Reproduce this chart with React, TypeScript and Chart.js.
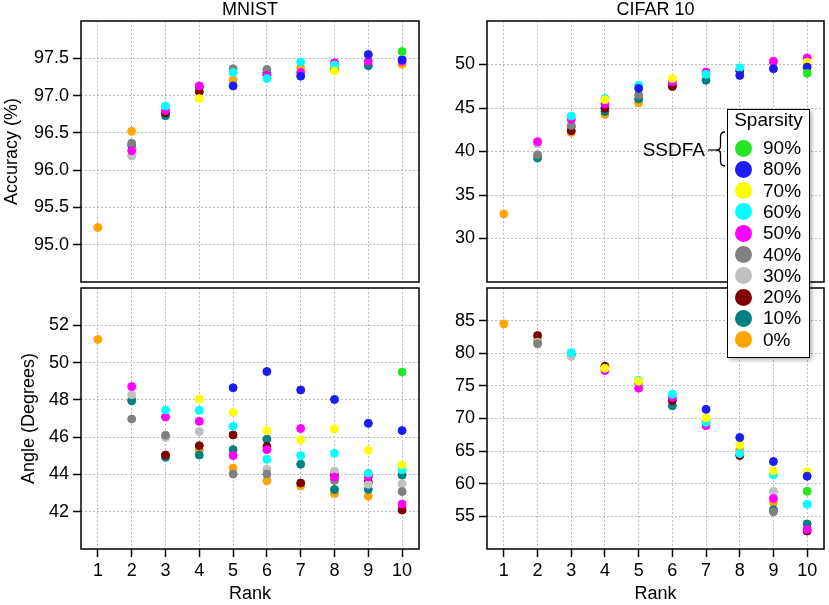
import React, { useEffect, useRef } from 'react';
import { Chart, registerables } from 'chart.js';

Chart.register(...registerables);

const FONT = '"Liberation Sans", Arial, Helvetica, sans-serif';
const GRID = '#bdbdbd';

const ranks = [1, 2, 3, 4, 5, 6, 7, 8, 9, 10];
const sparsity = ['90%', '80%', '70%', '60%', '50%', '40%', '30%', '20%', '10%', '0%'];
const sparsityColors = [
  '#22e622', '#1c1cf5', '#ffff00', '#00ffff', '#ff00ff',
  '#808080', '#c0c0c0', '#800000', '#008080', '#ffa500',
];

const _ = null;

// rows follow the sparsity order above, columns are ranks 1..10
const mnistAccuracy = [
  [_, _, _, _, _, _, _, _, _, 97.59],
  [_, _, _, _, 97.13, _, 97.26, _, 97.55, 97.48],
  [_, _, _, 96.96, _, _, _, 97.33, _, _],
  [_, _, 96.86, _, 97.31, 97.23, 97.45, 97.41, _, _],
  [_, 96.26, 96.8, 97.13, _, 97.27, 97.31, 97.44, 97.46, 97.46],
  [_, 96.36, _, _, 97.36, 97.35, _, _, _, _],
  [_, 96.19, _, _, _, _, _, _, _, _],
  [_, _, 96.77, 97.05, _, 97.28, _, 97.35, _, _],
  [_, 96.33, 96.73, 97.11, _, 97.31, _, _, 97.4, _],
  [95.23, 96.52, _, _, 97.21, _, 97.37, _, _, 97.42],
];

const mnistAngle = [
  [_, _, _, _, _, _, _, _, _, 49.49],
  [_, _, _, _, 48.65, 49.52, 48.53, 48.02, 46.74, 46.35],
  [_, _, _, 48.04, 47.33, 46.35, 45.86, 46.44, 45.29, 44.51],
  [_, _, 47.45, 47.43, 46.58, 44.81, 45.01, 45.13, 44.07, 44.25],
  [_, 48.71, 47.08, 46.85, 45.01, 45.33, 46.46, 43.86, 43.87, 42.41],
  [_, 46.97, 46.1, _, 44.02, 44.02, _, 43.68, 43.95, 43.08],
  [_, 48.28, 45.98, 46.3, _, 44.28, _, 44.18, 43.47, 43.49],
  [_, _, 45.04, 45.54, 46.12, 45.5, 43.54, 44.0, 43.59, 42.09],
  [_, 47.95, 44.92, 45.04, 45.33, 45.89, 44.55, 43.19, 43.2, 43.96],
  [51.24, 48.05, _, 45.31, 44.34, 43.66, 43.38, 42.97, 42.83, 42.27],
];

const cifarAccuracy = [
  [_, _, _, _, _, _, _, _, _, 48.98],
  [_, _, _, _, 47.25, _, _, 48.75, 49.51, 49.7],
  [_, _, _, 45.96, _, 48.38, _, _, _, 50.26],
  [_, _, 44.08, 46.11, 47.62, _, 48.87, 49.62, _, _],
  [_, 41.13, 43.7, 45.47, _, 48.0, 49.13, _, 50.38, 50.75],
  [_, 39.62, 43.0, _, 46.49, _, _, _, _, _],
  [_, 40.87, _, _, _, _, _, _, _, _],
  [_, _, 42.38, 44.98, _, 47.47, _, 49.25, _, _],
  [_, 39.25, 42.83, 44.6, 46.04, 47.62, 48.19, _, _, _],
  [32.83, _, 42.19, 44.26, 45.58, _, _, _, 50.2, _],
];

const cifarAngle = [
  [_, _, _, _, _, _, _, _, _, 58.85],
  [_, _, _, _, _, _, 71.4, 67.08, 63.4, 61.15],
  [_, _, _, 77.7, 75.7, _, 70.1, 66.0, 62.0, 61.85],
  [_, _, 80.1, _, 75.86, 73.7, 69.4, 64.62, 61.35, 56.85],
  [_, _, _, 77.35, 74.65, 73.2, 68.9, _, 57.75, 53.0],
  [_, 81.45, _, _, 75.35, _, _, _, 55.7, _],
  [_, 81.7, 79.5, _, _, _, _, _, 58.85, _],
  [_, 82.72, _, 78.0, _, 72.75, _, 64.32, _, 52.75],
  [_, _, 79.8, _, _, 71.95, 69.75, _, 56.0, 53.85],
  [84.5, 82.0, _, 77.9, _, _, _, 65.2, 57.1, 53.25],
];

const mnistAccuracyTicks = [95.0, 95.5, 96.0, 96.5, 97.0, 97.5];
const mnistAngleTicks = [42, 44, 46, 48, 50, 52];
const cifarAccuracyTicks = [30, 35, 40, 45, 50];
const cifarAngleTicks = [55, 60, 65, 70, 75, 80, 85];

// black box round the plot area
const framePlugin = {
  id: 'frame',
  afterDraw(chart: any) {
    const { ctx, chartArea: a } = chart;
    ctx.save();
    ctx.strokeStyle = '#000';
    ctx.lineWidth = 1.5;
    ctx.strokeRect(a.left, a.top, a.right - a.left, a.bottom - a.top);
    ctx.restore();
  },
};

type PanelProps = {
  series: (number | null)[][];
  yMin: number;
  yMax: number;
  yTicks: number[];
  decimals: number;
  title?: string;
  yTitle?: string;
  yTitlePad?: number;
  showX: boolean;
  yAxisWidth: number;
  padding: { top: number; right: number; bottom: number; left: number };
  left: number;
  top: number;
  width: number;
  height: number;
};

function Panel(props: PanelProps) {
  const canvasRef = useRef<HTMLCanvasElement>(null);

  useEffect(() => {
    if (!canvasRef.current) return;
    const tickFont = { family: FONT, size: 18 };

    const chart = new Chart(canvasRef.current, {
      type: 'scatter',
      data: {
        datasets: props.series.map((vals, i) => ({
          label: sparsity[i],
          data: ranks
            .map((r, j) => ({ x: r, y: vals[j] }))
            .filter((p) => p.y !== null) as any,
          backgroundColor: sparsityColors[i],
          borderColor: sparsityColors[i],
          pointRadius: 4,
          pointBorderWidth: 1,
        })),
      },
      options: {
        responsive: false,
        animation: false,
        events: [],
        layout: { padding: props.padding },
        plugins: {
          legend: { display: false },
          tooltip: { enabled: false },
          title: {
            display: !!props.title,
            text: props.title || '',
            fullSize: false,
            color: '#000',
            font: { family: FONT, size: 18, weight: 'normal', lineHeight: 1 },
            padding: { top: 1, bottom: 2 },
          },
        },
        scales: {
          x: {
            type: 'linear',
            min: 0.5,
            max: 10.5,
            afterBuildTicks: (s: any) => {
              s.ticks = ranks.map((v) => ({ value: v }));
            },
            afterFit: (s: any) => {
              s.height = props.showX ? 56 : 0;
              s.paddingLeft = 0;
              s.paddingRight = 0;
            },
            grid: {
              color: GRID,
              lineWidth: 1,
              drawTicks: props.showX,
              tickLength: 8,
              tickColor: '#000',
              tickWidth: 1.5,
            },
            border: { display: false, dash: [2, 2] },
            ticks: {
              display: props.showX,
              padding: 3,
              color: '#000',
              font: tickFont,
              maxRotation: 0,
              autoSkip: false,
              callback: (v: any) => String(v),
            },
            title: {
              display: props.showX,
              text: 'Rank',
              color: '#000',
              font: tickFont,
              padding: { top: 0, bottom: 0 },
            },
          },
          y: {
            type: 'linear',
            min: props.yMin,
            max: props.yMax,
            afterBuildTicks: (s: any) => {
              s.ticks = props.yTicks.map((v) => ({ value: v }));
            },
            afterFit: (s: any) => {
              s.width = props.yAxisWidth;
              s.paddingTop = 0;
              s.paddingBottom = 0;
            },
            grid: {
              color: GRID,
              lineWidth: 1,
              tickLength: 8,
              tickColor: '#000',
              tickWidth: 1.5,
            },
            border: { display: false, dash: [2, 2] },
            ticks: {
              padding: 4,
              color: '#000',
              font: tickFont,
              callback: (v: any) => Number(v).toFixed(props.decimals),
            },
            title: {
              display: !!props.yTitle,
              text: props.yTitle || '',
              color: '#000',
              font: tickFont,
              padding: { top: props.yTitlePad || 0, bottom: 0 },
            },
          },
        },
      } as any,
      plugins: [framePlugin],
    });

    return () => {
      chart.destroy();
    };
  }, []);

  return (
    <canvas
      ref={canvasRef}
      width={props.width}
      height={props.height}
      style={{
        position: 'absolute',
        left: props.left,
        top: props.top,
        width: props.width,
        height: props.height,
      }}
    />
  );
}

function SparsityLegend() {
  return (
    <>
      {/* SSDFA label with brace */}
      <div
        style={{
          position: 'absolute',
          left: 620,
          top: 139,
          width: 85,
          height: 22,
          lineHeight: '22px',
          textAlign: 'right',
          fontSize: 19,
          fontFamily: FONT,
          color: '#000',
          zIndex: 2,
        }}
      >
        SSDFA
      </div>
      <svg
        width={829}
        height={605}
        style={{ position: 'absolute', left: 0, top: 0, zIndex: 2, pointerEvents: 'none' }}
      >
        <path d="M 708 150 L 716 150" stroke="#000" strokeWidth={1.2} fill="none" />
        <path
          d="M 725 132 Q 720.5 132 720.5 137 L 720.5 146 Q 720.5 150 716 150 Q 720.5 150 720.5 154 L 720.5 161 Q 720.5 166 725 166"
          stroke="#000"
          strokeWidth={1.3}
          fill="none"
        />
      </svg>

      {/* legend box */}
      <div
        style={{
          position: 'absolute',
          left: 727,
          top: 109,
          width: 83,
          height: 249,
          boxSizing: 'border-box',
          border: '1.5px solid #000',
          background: '#fff',
          boxShadow: '2px 2px 4px rgba(0,0,0,0.3)',
          fontFamily: FONT,
          color: '#000',
          zIndex: 3,
        }}
      >
        <div
          style={{
            position: 'absolute',
            left: 0,
            top: -1,
            width: '100%',
            height: 22,
            lineHeight: '22px',
            textAlign: 'center',
            fontSize: 19,
          }}
        >
          Sparsity
        </div>
        {sparsity.map((label, i) => (
          <div
            key={label}
            style={{
              position: 'absolute',
              left: 0,
              top: 27 + i * 21.3,
              width: '100%',
              height: 22,
              lineHeight: '22px',
              fontSize: 19,
            }}
          >
            <span
              style={{
                position: 'absolute',
                left: 7,
                top: 2.5,
                width: 17,
                height: 17,
                borderRadius: '50%',
                background: sparsityColors[i],
              }}
            />
            <span style={{ position: 'absolute', left: 35 }}>{label}</span>
          </div>
        ))}
      </div>
    </>
  );
}

export default function App() {
  return (
    <div
      style={{
        position: 'fixed',
        left: 0,
        top: 0,
        width: 829,
        height: 605,
        background: '#fff',
        overflow: 'hidden',
      }}
    >
      <Panel
        series={mnistAccuracy}
        yMin={94.5}
        yMax={98.0}
        yTicks={mnistAccuracyTicks}
        decimals={1}
        title="MNIST"
        yTitle="Accuracy (%)"
        yTitlePad={1.5}
        showX={false}
        yAxisWidth={81}
        padding={{ top: 0, right: 4, bottom: 2, left: 0 }}
        left={0}
        top={0}
        width={424}
        height={287}
      />
      <Panel
        series={mnistAngle}
        yMin={40}
        yMax={54}
        yTicks={mnistAngleTicks}
        decimals={0}
        yTitle="Angle (Degrees)"
        yTitlePad={18.5}
        showX={true}
        yAxisWidth={81}
        padding={{ top: 2, right: 4, bottom: 0, left: 0 }}
        left={0}
        top={283}
        width={424}
        height={322}
      />
      <Panel
        series={cifarAccuracy}
        yMin={25}
        yMax={55}
        yTicks={cifarAccuracyTicks}
        decimals={0}
        title="CIFAR 10"
        showX={false}
        yAxisWidth={63}
        padding={{ top: 0, right: 3, bottom: 2, left: 0 }}
        left={424}
        top={0}
        width={405}
        height={287}
      />
      <Panel
        series={cifarAngle}
        yMin={50}
        yMax={90}
        yTicks={cifarAngleTicks}
        decimals={0}
        showX={true}
        yAxisWidth={63}
        padding={{ top: 2, right: 3, bottom: 0, left: 0 }}
        left={424}
        top={283}
        width={405}
        height={322}
      />
      <SparsityLegend />
    </div>
  );
}
